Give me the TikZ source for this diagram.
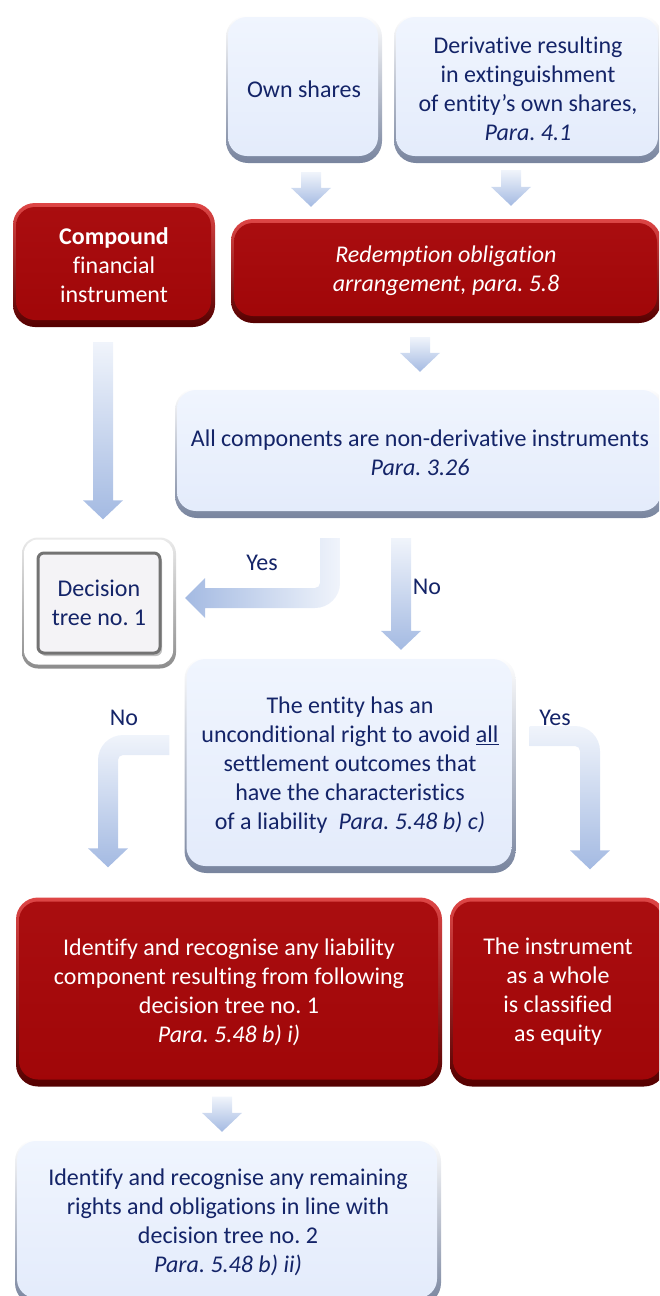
\documentclass[tikz,border=0pt]{standalone}
\usepackage{fontspec}
\setmainfont{Carlito}[Ligatures={NoCommon,NoContextual}]
\usepackage{xcolor}
\usepackage{tikz}
\usetikzlibrary{calc,shadows}

\definecolor{navy}{RGB}{20,36,104}
\definecolor{boxblue}{RGB}{227,235,251}
\definecolor{boxbluetop}{RGB}{240,245,254}
\definecolor{bevelblue}{RGB}{120,132,158}
\definecolor{boxred}{RGB}{160,6,8}
\definecolor{boxredtop}{RGB}{170,14,16}
\definecolor{bevelred}{RGB}{85,0,0}
\definecolor{lightred}{RGB}{222,70,70}
\definecolor{arrowlight}{RGB}{240,244,251}
\definecolor{arrowdark}{RGB}{164,186,226}
\definecolor{paper}{RGB}{244,243,246}

\tikzset{
  txt/.style={font=\fontsize{24}{29}\selectfont},
  bluebox/.style={txt, rectangle, rounded corners=22pt, inner sep=0pt, align=center, text=navy,
    top color=white, bottom color=bevelblue,
    path picture={\shade[top color=boxbluetop, bottom color=boxblue, rounded corners=19pt]
      ([shift={(2pt,-2pt)}]path picture bounding box.north west) rectangle
      ([shift={(-4pt,7pt)}]path picture bounding box.south east);}},
  redbox/.style={txt, rectangle, rounded corners=22pt, inner sep=0pt, align=center, text=white,
    top color=lightred, bottom color=bevelred,
    path picture={\shade[top color=boxredtop, bottom color=boxred, rounded corners=19pt]
      ([shift={(3pt,-4pt)}]path picture bounding box.north west) rectangle
      ([shift={(-4pt,7pt)}]path picture bounding box.south east);}},
  greybox/.style={rectangle, rounded corners=16pt, inner sep=0pt,
    top color=black!8, bottom color=black!45,
    path picture={\fill[white, rounded corners=14pt]
      ([shift={(2pt,-2pt)}]path picture bounding box.north west) rectangle
      ([shift={(-3pt,4pt)}]path picture bounding box.south east);}},
  paperbox/.style={txt, rectangle, rounded corners=6pt, inner sep=0pt, align=center, text=navy,
    fill=paper, draw=black!55, line width=3pt,
    drop shadow={shadow xshift=2pt, shadow yshift=-3pt, opacity=.5}},
  lbl/.style={txt, text=navy, inner sep=0pt},
  arrowfill/.style={top color=arrowlight, bottom color=arrowdark}
}

% straight block arrow, from top point #1 down to tip #2
\newcommand\downblock[2]{%
  \shade[arrowfill]
    ($(#1)+(-10,0)$) -- ($(#2)+(-10,-19)$) -- ($(#2)+(-20,-19)$) -- (#2)
    -- ($(#2)+(20,-19)$) -- ($(#2)+(10,-19)$) -- ($(#1)+(10,0)$) -- cycle;}

\frenchspacing
\begin{document}
\begin{tikzpicture}[x=1pt, y=-1pt]
    \useasboundingbox (0,0) rectangle (659,1296);
    \clip (0,0) rectangle (659,1296);
    % boxes
    \node[bluebox, minimum width=156pt, minimum height=148pt] (own) at (304,89) {Own shares};
    \node[bluebox, minimum width=268pt, minimum height=148pt] (deriv) at (528,89)
        {Derivative resulting\\in extinguishment\\of entity’s own shares,\\\textit{Para. 4.1}};
    \node[redbox, minimum width=202pt, minimum height=124pt] (compound) at (114,265)
        {\textbf{Compound}\\financial\\instrument};
    \node[redbox, minimum width=430pt, minimum height=104pt] (redeem) at (446,271)
        {\textit{Redemption obligation}\\\textit{arrangement, para. 5.8}};
    \node[bluebox, minimum width=490pt, minimum height=130pt] (allcomp) at (420,453)
        {All components are non-derivative instruments\\\textit{Para. 3.26}};
    \node[greybox, minimum width=154pt, minimum height=131pt] (dtree) at (99,603) {};
    \node[paperbox, minimum width=122pt, minimum height=100pt] (dtreein) at (dtree.center)
        {Decision\\tree no. 1};
    \node[bluebox, minimum width=331pt, minimum height=216pt] (entity) at (350,765)
        {The entity has an\\unconditional right to avoid \underline{all}\\settlement outcomes that\\have the characteristics\\of a liability~~\textit{Para. 5.48 b) c)}};
    \node[redbox, minimum width=426pt, minimum height=189pt] (liab) at (229,992)
        {Identify and recognise any liability\\component resulting from following\\decision tree no. 1\\\textit{Para. 5.48 b) i)}};
    \node[redbox, minimum width=216pt, minimum height=189pt] (equity) at (558,992)
        {The instrument\\as a whole\\is classified\\as equity};
    \node[bluebox, minimum width=426pt, minimum height=166pt] (remain) at (228,1222)
        {Identify and recognise any remaining\\rights and obligations in line with\\decision tree no. 2\\\textit{Para. 5.48 b) ii)}};

    % define coordinates
    \coordinate (a1s) at ($(own.south)+(7,9)$);
    \coordinate (a1e) at ($(a1s |- redeem.north)+(0,-12)$);
    \coordinate (a2s) at ($(deriv.south)+(-17,7)$);
    \coordinate (a2e) at ($(a2s |- redeem.north)+(0,-13)$);
    \coordinate (a3s) at ($(redeem.south)+(-26,14)$);
    \coordinate (a3e) at ($(a3s |- allcomp.north)+(0,-16)$);
    \coordinate (a4s) at ($(compound.south)+(-11,15)$);
    \coordinate (a4e) at ($(a4s |- dtree.north)+(0,-18)$);
    \coordinate (a6s) at ($(allcomp.south)+(-19,20)$);
    \coordinate (a6e) at ($(a6s |- entity.north)+(0,-7)$);
    \coordinate (a9s) at ($(liab.south)+(-7,10)$);
    \coordinate (a9e) at ($(a9s |- remain.north)+(0,-7)$);
    \coordinate (ys) at ($(allcomp.south)+(-90,20)$);
    \coordinate (ye) at ($(dtree.east)+(9,-5)$);
    \coordinate (ns) at ($(entity.west)+(-15,-20)$);
    \coordinate (ne) at ($(liab.north)+(-121,-30)$);
    \coordinate (hs) at ($(entity.east)+(14,-29)$);
    \coordinate (he) at ($(equity.north)+(32,-28)$);

    % straight arrows
    \downblock{a1s}{a1e}
    \downblock{a2s}{a2e}
    \downblock{a3s}{a3e}
    \downblock{a4s}{a4e}
    \downblock{a6s}{a6e}
    \downblock{a9s}{a9e}

    % bent arrows
    \shade[left color=arrowdark, right color=arrowlight]
        ($(ys)+(-10,0)$) -- ($(ys)+(10,0)$) -- ($(ys |- ye)+(10,-15)$)
        arc[start angle=0, end angle=90, radius=25] -- ($(ye)+(20,10)$) -- ($(ye)+(20,20)$)
        -- (ye) -- ($(ye)+(20,-20)$) -- ($(ye)+(20,-10)$) -- ($(ys |- ye)+(-15,-10)$)
        arc[start angle=90, end angle=0, radius=5] -- cycle;
    \shade[arrowfill]
        ($(ns)+(0,-10)$) -- ($(ns)+(0,10)$) -- ($(ne |- ns)+(15,10)$)
        arc[start angle=-90, end angle=-180, radius=5] -- ($(ne)+(10,-19)$) -- ($(ne)+(20,-19)$)
        -- (ne) -- ($(ne)+(-20,-19)$) -- ($(ne)+(-10,-19)$) -- ($(ne |- ns)+(-10,15)$)
        arc[start angle=180, end angle=270, radius=25] -- cycle;
    \shade[arrowfill]
        ($(hs)+(0,-10)$) -- ($(he |- hs)+(-15,-10)$)
        arc[start angle=-90, end angle=0, radius=25] -- ($(he)+(10,-19)$) -- ($(he)+(20,-19)$)
        -- (he) -- ($(he)+(-20,-19)$) -- ($(he)+(-10,-19)$) -- ($(he |- hs)+(-10,15)$)
        arc[start angle=0, end angle=-90, radius=5] -- ($(hs)+(0,10)$) -- cycle;

    % labels
    \node[lbl] (yes1) at (262,563) {Yes};
    \node[lbl] (no1) at (427,587) {No};
    \node[lbl] (no2) at (124,718) {No};
    \node[lbl] (yes2) at (555,718) {Yes};
\end{tikzpicture}
\end{document}
